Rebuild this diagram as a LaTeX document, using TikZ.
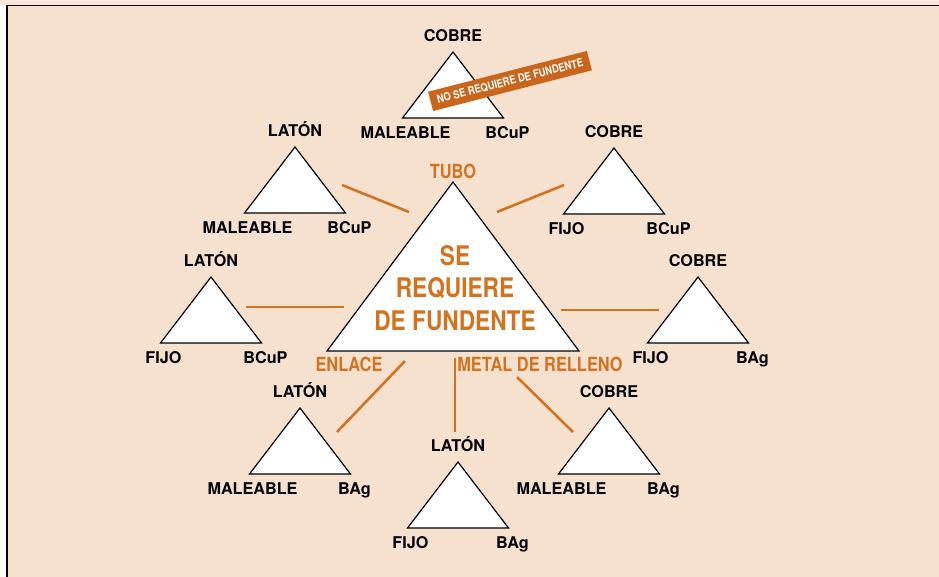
\documentclass[tikz,border=0pt]{standalone}
\usepackage{fontspec}
\setmainfont{TeX Gyre Heros}
\newfontfamily\cnfont[FakeStretch=0.84]{TeX Gyre Heros}
\usetikzlibrary{calc}

\definecolor{fondo}{HTML}{F6E1CF}
\definecolor{naranja}{HTML}{D4731F}
\definecolor{cinta}{HTML}{C9661C}

\newcommand{\triangulo}[6]{%
  \coordinate (#1) at (#2,#3);
  \filldraw[tri] (#1) -- ++(-50.5,66) coordinate (#1-l) -- ++(101,0) coordinate (#1-r) -- cycle;
  \node[lbl] (#1-top) at ($(#1)+(0,-10.5)$) {#4};
  \node[lbl] (#1-left) at ($(#1-l)+(3,20)$) {#5};
  \node[lbl] (#1-right) at ($(#1-r)+(4,20)$) {#6};
}

\begin{document}
\begin{tikzpicture}
        [x=1pt,y=-1pt,
         tri/.style={fill=white,draw=black,line width=1.2pt,line join=miter},
         lbl/.style={font=\bfseries\fontsize{16.2}{18}\selectfont,inner sep=0pt,anchor=base},
         enlace/.style={draw=naranja,line width=2.6pt},
         titulo/.style={text=naranja,font=\cnfont\bfseries\fontsize{19.5}{22}\selectfont,inner sep=0pt}]
        \useasboundingbox (0,0) rectangle (939,576);
        \fill[white] (0,0) rectangle (939,576);
        \fill[fondo!80!white] (0,0) rectangle (939,5);
        \fill[fondo] (7,5.5) rectangle (950,590);
        \draw[line width=1.6pt] (7,5.5) -- (950,5.5);
        \draw[line width=2.6pt] (7,4.7) -- (7,590);

        \triangulo{cobre1}{453}{52}{COBRE}{MALEABLE}{BCuP}
        \triangulo{laton1}{295}{147}{LAT\'ON}{MALEABLE}{BCuP}
        \triangulo{cobre2}{614}{148}{COBRE}{FIJO}{BCuP}
        \triangulo{laton2}{211}{277}{LAT\'ON}{FIJO}{BCuP}
        \triangulo{cobre3}{698}{277}{COBRE}{FIJO}{BAg}
        \triangulo{laton3}{300}{408}{LAT\'ON}{MALEABLE}{BAg}
        \triangulo{laton4}{458}{462}{LAT\'ON}{FIJO}{BAg}
        \triangulo{cobre4}{609}{408}{COBRE}{MALEABLE}{BAg}

        \node[fill=cinta,text=white,rotate=14.4,inner sep=0pt,
              minimum width=164pt,minimum height=20pt,
              font=\cnfont\bfseries\fontsize{11.2}{13}\selectfont]
              (sinfundente) at (510,81) {NO SE REQUIERE DE FUNDENTE};

        \coordinate (tubo) at (453,182);
        \filldraw[tri] (tubo) -- (579,351) coordinate (relleno) -- (327,351) coordinate (enlace) -- cycle;
        \node[text=naranja,align=center,inner sep=0pt,
              font=\cnfont\bfseries\fontsize{27}{32.5}\selectfont]
              (fundente) at (455,288) {SE\\REQUIERE\\DE FUNDENTE};

        \node[titulo] (t-tubo) at (453,171) {TUBO};
        \node[titulo] (t-enlace) at (349,364) {ENLACE};
        \node[titulo] (t-relleno) at (540,364) {METAL DE RELLENO};

        \coordinate (a1) at (342,185); \coordinate (a2) at (409,212);
        \coordinate (b1) at (497,212); \coordinate (b2) at (564,185);
        \coordinate (c1) at (246,307); \coordinate (c2) at (344,307);
        \coordinate (d1) at (561,310); \coordinate (d2) at (659,310);
        \coordinate (e1) at (405,361); \coordinate (e2) at (337,432);
        \coordinate (f1) at (455,358); \coordinate (f2) at (455,432);
        \coordinate (g1) at (517,377); \coordinate (g2) at (573,432);

        \draw[enlace] (a1) -- (a2);
        \draw[enlace] (b1) -- (b2);
        \draw[enlace] (c1) -- (c2);
        \draw[enlace] (d1) -- (d2);
        \draw[enlace] (e1) -- (e2);
        \draw[enlace] (f1) -- (f2);
        \draw[enlace] (g1) -- (g2);
      \end{tikzpicture}
\end{document}
